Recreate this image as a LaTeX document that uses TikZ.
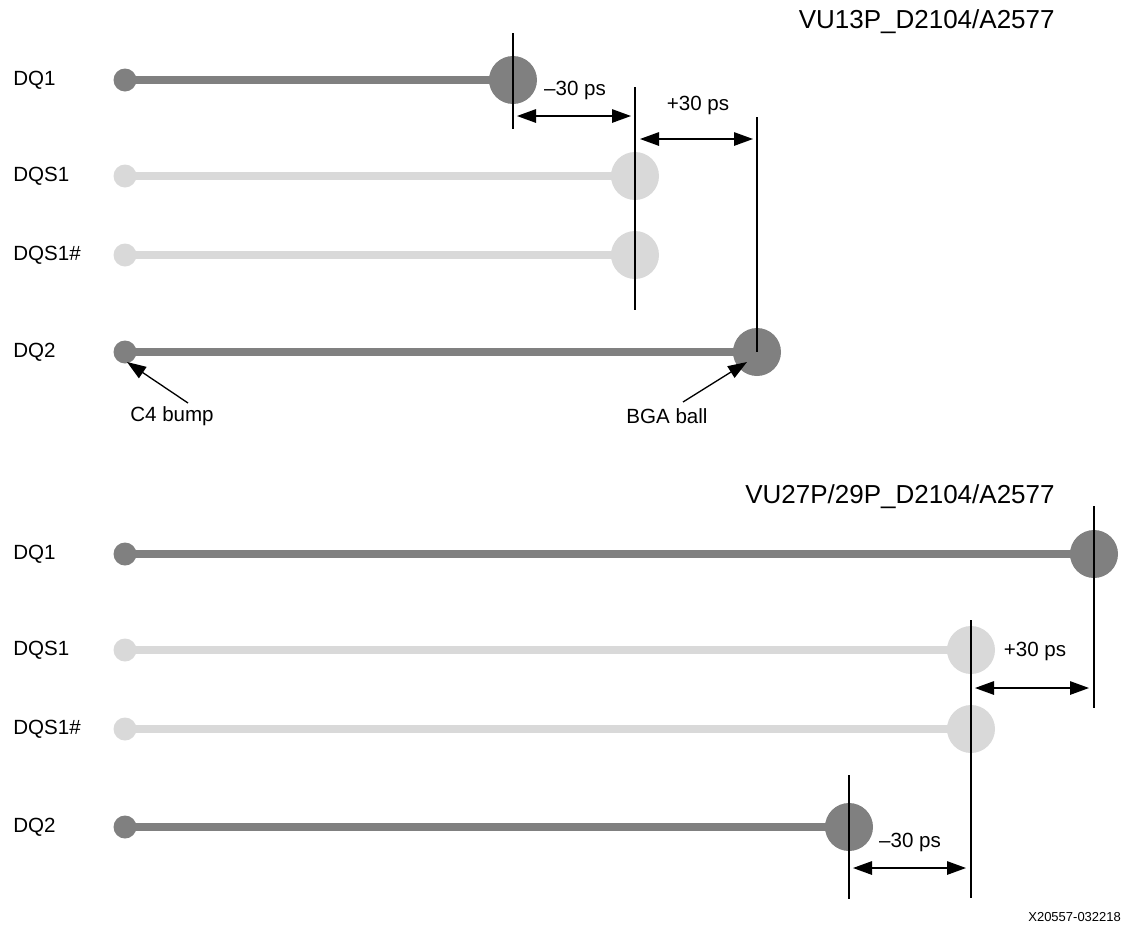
\documentclass[tikz,border=0pt]{standalone}
\usepackage{fontspec}
\setmainfont{Liberation Sans}
\usetikzlibrary{arrows.meta}
\definecolor{darktrace}{HTML}{808080}
\definecolor{lighttrace}{HTML}{D9D9D9}
\tikzset{
  bump/.style={circle,fill=#1,minimum size=0.46cm,inner sep=0pt},
  ball/.style={circle,fill=#1,minimum size=0.96cm,inner sep=0pt},
  trace/.style={draw=#1,line width=4pt,shorten <=-3pt,shorten >=-3pt},
  marker/.style={line width=1.1pt},
  skew/.style={line width=0.75pt,{Triangle[length=0.38cm,width=0.27cm]}-{Triangle[length=0.38cm,width=0.27cm]}},
  callout/.style={line width=0.75pt,-{Triangle[length=0.38cm,width=0.27cm]}},
  sig/.style={anchor=west,inner sep=0pt,font=\fontsize{11.7}{14}\selectfont},
  lbl/.style={font=\fontsize{11.7}{14}\selectfont},
  title/.style={anchor=east,inner sep=0pt,font=\fontsize{14.8}{18}\selectfont},
}
\begin{document}
\begin{tikzpicture}[x=0.02cm,y=-0.02cm]
            \useasboundingbox (0,0) rectangle (1123,924);
            % VU13P
            \node[title] (ttop) at (1055,22) {VU13P\_D2104/A2577};
            \node[sig] (sdqa) at (13,80) {DQ1};
            \node[sig] (sdqsa) at (13,176) {DQS1};
            \node[sig] (sdqsna) at (13,255) {DQS1\#};
            \node[sig] (sdqb) at (13,352) {DQ2};
            \node[bump=darktrace] (c4dqa) at (125,80) {};
            \node[ball=darktrace] (bgadqa) at (513,80) {};
            \node[bump=lighttrace] (c4dqsa) at (125,176) {};
            \node[ball=lighttrace] (bgadqsa) at (635,176) {};
            \node[bump=lighttrace] (c4dqsna) at (125,255) {};
            \node[ball=lighttrace] (bgadqsna) at (635,255) {};
            \node[bump=darktrace] (c4dqb) at (125,352) {};
            \node[ball=darktrace] (bgadqb) at (757,352) {};
            \draw[trace=darktrace] (c4dqa) -- (bgadqa);
            \draw[trace=lighttrace] (c4dqsa) -- (bgadqsa);
            \draw[trace=lighttrace] (c4dqsna) -- (bgadqsna);
            \draw[trace=darktrace] (c4dqb) -- (bgadqb);
            \draw[marker] (513,33) -- (bgadqa.center) -- (513,129);
            \draw[marker] (635,87) -- (bgadqsa.center) -- (635,310);
            \draw[marker] (757,117) -- (bgadqb.center);
            \coordinate (ska) at (517,116);
            \coordinate (skb) at (631,116);
            \coordinate (skc) at (640,139);
            \coordinate (skd) at (753,139);
            \draw[skew] (ska) -- (skb);
            \draw[skew] (skc) -- (skd);
            \node[lbl] (mina) at (575,90) {–30 ps};
            \node[lbl] (plusa) at (698,105) {+30 ps};
            \node[lbl] (c4lbl) at (172,416) {C4 bump};
            \node[lbl] (bgalbl) at (667,416) {BGA ball};
            \coordinate (c4tail) at (188,403);
            \coordinate (c4tip) at (127,362);
            \coordinate (bgatail) at (683,402);
            \coordinate (bgatip) at (747,362);
            \draw[callout] (c4tail) -- (c4tip);
            \draw[callout] (bgatail) -- (bgatip);
            % VU27P/29P
            \node[title] (tbot) at (1055,497) {VU27P/29P\_D2104/A2577};
            \node[sig] (sdqc) at (13,554) {DQ1};
            \node[sig] (sdqsc) at (13,650) {DQS1};
            \node[sig] (sdqsnc) at (13,729) {DQS1\#};
            \node[sig] (sdqd) at (13,827) {DQ2};
            \node[bump=darktrace] (c4dqc) at (125,554) {};
            \node[ball=darktrace] (bgadqc) at (1094,554) {};
            \node[bump=lighttrace] (c4dqsc) at (125,650) {};
            \node[ball=lighttrace] (bgadqsc) at (971,650) {};
            \node[bump=lighttrace] (c4dqsnc) at (125,729) {};
            \node[ball=lighttrace] (bgadqsnc) at (971,729) {};
            \node[bump=darktrace] (c4dqd) at (125,827) {};
            \node[ball=darktrace] (bgadqd) at (849,827) {};
            \draw[trace=darktrace] (c4dqc) -- (bgadqc);
            \draw[trace=lighttrace] (c4dqsc) -- (bgadqsc);
            \draw[trace=lighttrace] (c4dqsnc) -- (bgadqsnc);
            \draw[trace=darktrace] (c4dqd) -- (bgadqd);
            \draw[marker] (1094,506) -- (bgadqc.center) -- (1094,708);
            \draw[marker] (971,620) -- (bgadqsc.center) -- (bgadqsnc.center) -- (971,898);
            \draw[marker] (849,775) -- (bgadqd.center) -- (849,899);
            \coordinate (ske) at (975,688);
            \coordinate (skf) at (1089,688);
            \coordinate (skg) at (853,868);
            \coordinate (skh) at (966,868);
            \draw[skew] (ske) -- (skf);
            \draw[skew] (skg) -- (skh);
            \node[lbl] (plusb) at (1035,651) {+30 ps};
            \node[lbl] (minb) at (910,842) {–30 ps};
            \node[anchor=west,inner sep=0pt,font=\fontsize{7.4}{9}\selectfont] (fig) at (1028,917) {X20557-032218};
        \end{tikzpicture}
\end{document}
